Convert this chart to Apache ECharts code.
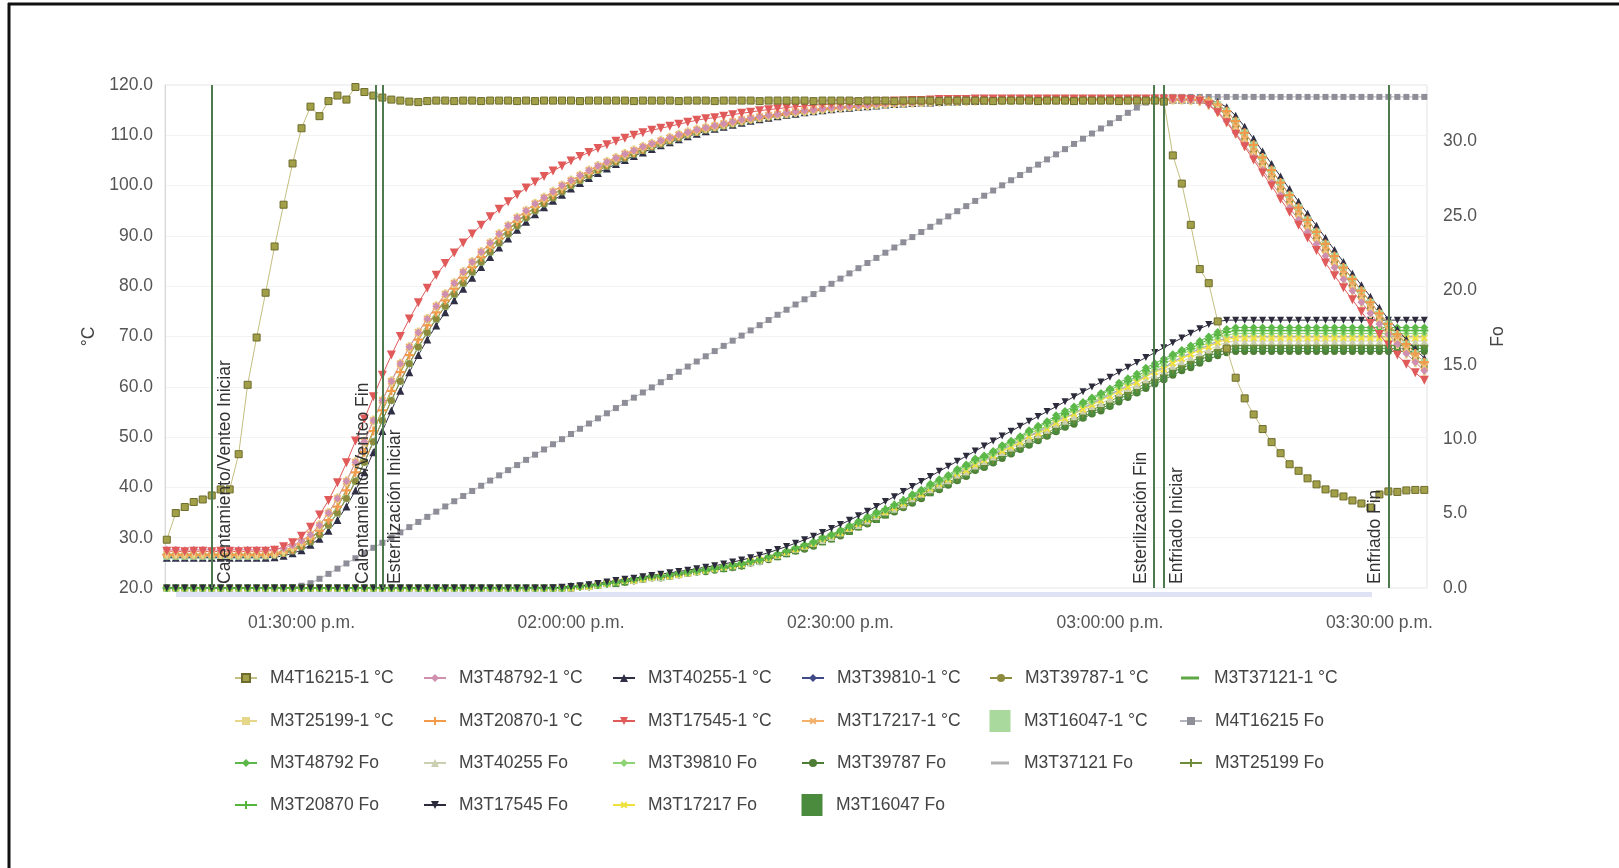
<!DOCTYPE html>
<html><head><meta charset="utf-8">
<script src="https://cdn.jsdelivr.net/npm/echarts@6/dist/echarts.min.js"></script>
<style>html,body{margin:0;padding:0;background:#fff}#chart{width:1619px;height:868px}</style>
</head><body><div id="chart"></div>
<script>
// Sample times: one reading per minute starting 01:15:00 p.m. (795 min after midnight)
const startMinute = 795;
const stepMinutes = 1;
const xLabelMinutes = [810, 840, 870, 900, 930];
const yLeftTicks = {min: 20, max: 120, interval: 10};
const yRightTicks = {min: 0, max: 33.8, interval: 5};

const eventNames = ['Calentamiento/Venteo Iniciar', 'Calentamiento/Venteo Fin', 'Esterilización Iniciar', 'Esterilización Fin', 'Enfriado Iniciar', 'Enfriado Fin'];
const eventMinutes = [800.0, 818.3, 819.0, 904.9, 906.0, 931.0];

// ---- Temperatures (°C) ----
const tM4T16215 = [
29.6,34.9,36.1,37.1,37.6,38.4,39.6,39.6,46.6,60.4,
69.8,78.7,87.9,96.2,104.4,111.4,115.7,113.8,116.8,117.9,
117.1,119.6,118.6,117.9,117.5,117.1,116.9,116.7,116.6,116.8,
116.9,116.9,116.8,116.9,116.9,116.8,116.9,116.9,116.9,116.8,
116.9,116.8,116.9,116.9,116.9,116.9,116.8,116.9,116.9,116.9,
116.9,116.9,116.8,116.9,116.9,116.9,116.9,116.8,116.9,116.9,
116.9,116.8,116.9,116.9,116.9,116.9,116.8,116.9,116.9,116.9,
116.9,116.9,116.8,116.9,116.9,116.9,116.9,116.8,116.9,116.9,
116.9,116.8,116.9,116.9,116.9,116.9,116.8,116.9,116.9,116.9,
116.9,116.9,116.8,116.9,116.9,116.9,116.9,116.8,116.9,116.9,
116.9,116.8,116.9,116.9,116.9,116.9,116.8,116.9,116.9,116.9,
116.9,116.7,106.0,100.4,92.2,83.4,80.6,73.0,67.6,61.8,
57.7,54.5,51.6,49.0,46.8,44.6,43.3,41.8,40.6,39.6,
38.8,38.2,37.4,36.8,36.0,38.6,39.2,39.1,39.4,39.5,
39.5];
const tM3T48792 = [
27.6,27.6,27.5,27.6,27.6,27.6,27.5,27.6,27.6,27.6,
27.6,27.6,27.7,27.9,28.5,29.4,30.6,32.5,34.9,37.8,
41.2,45.0,49.1,53.3,57.3,61.1,64.6,67.9,70.8,73.5,
76.0,78.4,80.6,82.8,84.8,86.8,88.6,90.4,92.0,93.6,
95.0,96.4,97.6,98.8,100.0,101.0,102.0,103.0,103.9,104.7,
105.5,106.3,107.0,107.7,108.3,108.9,109.5,110.1,110.6,111.1,
111.5,111.9,112.3,112.7,113.1,113.4,113.7,114.0,114.2,114.5,
114.7,114.9,115.1,115.3,115.5,115.6,115.8,115.9,116.0,116.2,
116.3,116.4,116.5,116.5,116.6,116.7,116.7,116.8,116.8,116.9,
116.9,117.0,117.0,117.0,117.1,117.1,117.1,117.1,117.1,117.1,
117.1,117.1,117.1,117.1,117.1,117.1,117.1,117.1,117.1,117.1,
117.1,117.1,117.1,117.1,117.0,116.8,116.1,114.8,112.8,110.5,
108.1,105.6,103.1,100.6,98.1,95.6,93.2,90.8,88.4,86.0,
83.7,81.4,79.1,76.8,74.6,72.5,70.4,68.5,66.6,64.9,
63.2];
const tM3T40255 = [
26.0,26.0,26.0,26.0,26.0,26.0,26.0,26.0,26.0,26.0,
26.0,26.0,26.1,26.4,26.9,27.5,28.6,29.8,31.4,33.5,
36.2,39.4,43.0,47.0,51.2,55.3,59.2,62.9,66.3,69.4,
72.2,74.8,77.2,79.5,81.7,83.8,85.8,87.7,89.5,91.2,
92.8,94.3,95.7,97.0,98.2,99.4,100.5,101.5,102.5,103.4,
104.3,105.1,105.9,106.6,107.3,108.0,108.6,109.2,109.8,110.3,
110.8,111.3,111.7,112.1,112.5,112.9,113.2,113.5,113.8,114.1,
114.3,114.6,114.8,115.0,115.2,115.4,115.5,115.7,115.8,115.9,
116.1,116.2,116.3,116.4,116.5,116.5,116.6,116.7,116.7,116.8,
116.8,116.9,116.9,117.0,117.0,117.0,117.1,117.1,117.1,117.1,
117.1,117.1,117.1,117.1,117.1,117.1,117.1,117.1,117.1,117.1,
117.1,117.1,117.1,117.1,117.1,117.1,117.0,116.6,115.6,113.9,
111.7,109.3,106.8,104.3,101.8,99.3,96.8,94.4,92.0,89.6,
87.2,84.8,82.5,80.2,77.9,75.7,73.5,71.4,69.4,67.5,
65.7];
const tM3T39810 = [
26.1,26.1,26.1,26.1,26.1,26.1,26.1,26.1,26.1,26.1,
26.1,26.2,26.4,26.8,27.4,28.2,29.2,30.6,32.5,34.9,
37.8,41.2,45.0,49.1,53.3,57.3,61.1,64.6,67.9,70.8,
73.5,76.0,78.4,80.6,82.8,84.8,86.8,88.6,90.4,92.0,
93.6,95.0,96.4,97.6,98.8,100.0,101.0,102.0,103.0,103.9,
104.7,105.5,106.3,107.0,107.7,108.3,108.9,109.5,110.1,110.6,
111.1,111.5,111.9,112.3,112.7,113.1,113.4,113.7,114.0,114.2,
114.5,114.7,114.9,115.1,115.3,115.5,115.6,115.8,115.9,116.0,
116.2,116.3,116.4,116.5,116.5,116.6,116.7,116.7,116.8,116.8,
116.9,116.9,117.0,117.0,117.0,117.1,117.1,117.1,117.1,117.1,
117.1,117.1,117.1,117.1,117.1,117.1,117.1,117.1,117.1,117.1,
117.1,117.1,117.1,117.1,117.1,117.1,116.8,116.1,114.8,112.8,
110.5,108.1,105.6,103.1,100.6,98.1,95.6,93.2,90.8,88.4,
86.0,83.7,81.4,79.1,76.8,74.6,72.5,70.4,68.5,66.6,
64.9];
const tM3T39787 = [
26.5,26.5,26.5,26.5,26.5,26.5,26.5,26.5,26.5,26.5,
26.5,26.5,26.6,26.9,27.4,28.2,29.2,30.6,32.5,34.9,
37.8,41.2,45.0,49.1,53.3,57.3,61.1,64.6,67.9,70.8,
73.5,76.0,78.4,80.6,82.8,84.8,86.8,88.6,90.4,92.0,
93.6,95.0,96.4,97.6,98.8,100.0,101.0,102.0,103.0,103.9,
104.7,105.5,106.3,107.0,107.7,108.3,108.9,109.5,110.1,110.6,
111.1,111.5,111.9,112.3,112.7,113.1,113.4,113.7,114.0,114.2,
114.5,114.7,114.9,115.1,115.3,115.5,115.6,115.8,115.9,116.0,
116.2,116.3,116.4,116.5,116.5,116.6,116.7,116.7,116.8,116.8,
116.9,116.9,117.0,117.0,117.0,117.1,117.1,117.1,117.1,117.1,
117.1,117.1,117.1,117.1,117.1,117.1,117.1,117.1,117.1,117.1,
117.1,117.1,117.1,117.1,117.1,117.0,116.6,115.6,113.9,111.7,
109.3,106.8,104.3,101.8,99.3,96.8,94.4,92.0,89.6,87.2,
84.8,82.5,80.2,77.9,75.7,73.5,71.4,69.4,67.5,65.7,
64.0];
const tM3T37121 = [
26.4,26.4,26.4,26.4,26.4,26.4,26.4,26.4,26.4,26.4,
26.4,26.5,26.7,27.1,27.7,28.6,29.8,31.4,33.5,36.2,
39.4,43.0,47.0,51.2,55.3,59.2,62.9,66.3,69.4,72.2,
74.8,77.2,79.5,81.7,83.8,85.8,87.7,89.5,91.2,92.8,
94.3,95.7,97.0,98.2,99.4,100.5,101.5,102.5,103.4,104.3,
105.1,105.9,106.6,107.3,108.0,108.6,109.2,109.8,110.3,110.8,
111.3,111.7,112.1,112.5,112.9,113.2,113.5,113.8,114.1,114.3,
114.6,114.8,115.0,115.2,115.4,115.5,115.7,115.8,115.9,116.1,
116.2,116.3,116.4,116.5,116.5,116.6,116.7,116.7,116.8,116.8,
116.9,116.9,117.0,117.0,117.0,117.1,117.1,117.1,117.1,117.1,
117.1,117.1,117.1,117.1,117.1,117.1,117.1,117.1,117.1,117.1,
117.1,117.1,117.1,117.1,117.1,117.0,116.6,115.6,113.9,111.7,
109.3,106.8,104.3,101.8,99.3,96.8,94.4,92.0,89.6,87.2,
84.8,82.5,80.2,77.9,75.7,73.5,71.4,69.4,67.5,65.7,
64.0];
const tM3T25199 = [
26.8,26.8,26.8,26.8,26.8,26.8,26.8,26.8,26.8,26.8,
26.8,26.8,26.9,27.4,28.2,29.2,30.6,32.5,34.9,37.8,
41.2,45.0,49.1,53.3,57.3,61.1,64.6,67.9,70.8,73.5,
76.0,78.4,80.6,82.8,84.8,86.8,88.6,90.4,92.0,93.6,
95.0,96.4,97.6,98.8,100.0,101.0,102.0,103.0,103.9,104.7,
105.5,106.3,107.0,107.7,108.3,108.9,109.5,110.1,110.6,111.1,
111.5,111.9,112.3,112.7,113.1,113.4,113.7,114.0,114.2,114.5,
114.7,114.9,115.1,115.3,115.5,115.6,115.8,115.9,116.0,116.2,
116.3,116.4,116.5,116.5,116.6,116.7,116.7,116.8,116.8,116.9,
116.9,117.0,117.0,117.0,117.1,117.1,117.1,117.1,117.1,117.1,
117.1,117.1,117.1,117.1,117.1,117.1,117.1,117.1,117.1,117.1,
117.1,117.1,117.1,117.1,117.0,116.8,116.1,114.8,112.8,110.5,
108.1,105.6,103.1,100.6,98.1,95.6,93.2,90.8,88.4,86.0,
83.7,81.4,79.1,76.8,74.6,72.5,70.4,68.5,66.6,64.9,
63.2];
const tM3T20870 = [
26.6,26.6,26.6,26.6,26.6,26.6,26.6,26.6,26.6,26.6,
26.6,26.6,26.8,27.1,27.7,28.6,29.8,31.4,33.5,36.2,
39.4,43.0,47.0,51.2,55.3,59.2,62.9,66.3,69.4,72.2,
74.8,77.2,79.5,81.7,83.8,85.8,87.7,89.5,91.2,92.8,
94.3,95.7,97.0,98.2,99.4,100.5,101.5,102.5,103.4,104.3,
105.1,105.9,106.6,107.3,108.0,108.6,109.2,109.8,110.3,110.8,
111.3,111.7,112.1,112.5,112.9,113.2,113.5,113.8,114.1,114.3,
114.6,114.8,115.0,115.2,115.4,115.5,115.7,115.8,115.9,116.1,
116.2,116.3,116.4,116.5,116.5,116.6,116.7,116.7,116.8,116.8,
116.9,116.9,117.0,117.0,117.0,117.1,117.1,117.1,117.1,117.1,
117.1,117.1,117.1,117.1,117.1,117.1,117.1,117.1,117.1,117.1,
117.1,117.1,117.1,117.1,117.1,117.1,116.8,116.1,114.8,112.8,
110.5,108.1,105.6,103.1,100.6,98.1,95.6,93.2,90.8,88.4,
86.0,83.7,81.4,79.1,76.8,74.6,72.5,70.4,68.5,66.6,
64.9];
const tM3T17545 = [
27.3,27.3,27.2,27.3,27.3,27.2,27.3,27.3,27.2,27.3,
27.3,27.3,27.5,28.2,29.0,30.3,32.1,34.5,37.4,40.9,
44.9,49.2,53.6,58.0,62.3,66.3,70.0,73.5,76.7,79.6,
82.2,84.5,86.6,88.6,90.4,92.1,93.8,95.3,96.8,98.2,
99.5,100.7,101.8,102.9,103.9,104.9,105.8,106.6,107.4,108.1,
108.8,109.4,110.0,110.5,111.0,111.4,111.8,112.2,112.6,113.0,
113.3,113.5,113.8,114.1,114.4,114.6,114.9,115.1,115.3,115.5,
115.7,115.8,116.0,116.1,116.2,116.3,116.4,116.5,116.6,116.7,
116.7,116.8,116.8,116.9,116.9,117.0,117.1,117.1,117.1,117.1,
117.2,117.2,117.2,117.2,117.2,117.2,117.2,117.2,117.2,117.2,
117.2,117.2,117.2,117.2,117.2,117.2,117.2,117.2,117.2,117.2,
117.2,117.2,117.2,117.2,117.1,116.8,116.0,114.5,112.5,110.2,
107.7,105.1,102.5,99.9,97.3,94.7,92.1,89.6,87.1,84.6,
82.1,79.7,77.3,74.9,72.6,70.4,68.3,66.3,64.5,62.8,
61.3];
const tM3T17217 = [
26.7,26.7,26.7,26.7,26.7,26.7,26.7,26.7,26.7,26.7,
26.7,26.7,26.9,27.4,28.2,29.2,30.6,32.5,34.9,37.8,
41.2,45.0,49.1,53.3,57.3,61.1,64.6,67.9,70.8,73.5,
76.0,78.4,80.6,82.8,84.8,86.8,88.6,90.4,92.0,93.6,
95.0,96.4,97.6,98.8,100.0,101.0,102.0,103.0,103.9,104.7,
105.5,106.3,107.0,107.7,108.3,108.9,109.5,110.1,110.6,111.1,
111.5,111.9,112.3,112.7,113.1,113.4,113.7,114.0,114.2,114.5,
114.7,114.9,115.1,115.3,115.5,115.6,115.8,115.9,116.0,116.2,
116.3,116.4,116.5,116.5,116.6,116.7,116.7,116.8,116.8,116.9,
116.9,117.0,117.0,117.0,117.1,117.1,117.1,117.1,117.1,117.1,
117.1,117.1,117.1,117.1,117.1,117.1,117.1,117.1,117.1,117.1,
117.1,117.1,117.1,117.1,117.1,117.0,116.6,115.6,113.9,111.7,
109.3,106.8,104.3,101.8,99.3,96.8,94.4,92.0,89.6,87.2,
84.8,82.5,80.2,77.9,75.7,73.5,71.4,69.4,67.5,65.7,
64.0];
const tM3T16047 = [
26.3,26.3,26.3,26.3,26.3,26.3,26.3,26.3,26.3,26.3,
26.3,26.4,26.6,26.9,27.4,28.2,29.2,30.6,32.5,34.9,
37.8,41.2,45.0,49.1,53.3,57.3,61.1,64.6,67.9,70.8,
73.5,76.0,78.4,80.6,82.8,84.8,86.8,88.6,90.4,92.0,
93.6,95.0,96.4,97.6,98.8,100.0,101.0,102.0,103.0,103.9,
104.7,105.5,106.3,107.0,107.7,108.3,108.9,109.5,110.1,110.6,
111.1,111.5,111.9,112.3,112.7,113.1,113.4,113.7,114.0,114.2,
114.5,114.7,114.9,115.1,115.3,115.5,115.6,115.8,115.9,116.0,
116.2,116.3,116.4,116.5,116.5,116.6,116.7,116.7,116.8,116.8,
116.9,116.9,117.0,117.0,117.0,117.1,117.1,117.1,117.1,117.1,
117.1,117.1,117.1,117.1,117.1,117.1,117.1,117.1,117.1,117.1,
117.1,117.1,117.1,117.1,117.1,117.1,116.8,116.1,114.8,112.8,
110.5,108.1,105.6,103.1,100.6,98.1,95.6,93.2,90.8,88.4,
86.0,83.7,81.4,79.1,76.8,74.6,72.5,70.4,68.5,66.6,
64.9];

// ---- Fo values ----
const foM4T16215 = [
0,0,0,0,0,0,0,0,0,0,
0,0,0,0.02,0.06,0.15,0.32,0.62,0.95,1.30,
1.65,2.00,2.35,2.70,3.04,3.39,3.74,4.09,4.44,4.78,
5.13,5.48,5.83,6.18,6.52,6.87,7.22,7.57,7.92,8.26,
8.61,8.96,9.31,9.66,10.00,10.35,10.70,11.05,11.40,11.74,
12.09,12.44,12.79,13.14,13.48,13.83,14.18,14.53,14.88,15.22,
15.57,15.92,16.27,16.62,16.96,17.31,17.66,18.01,18.36,18.70,
19.05,19.40,19.75,20.10,20.44,20.79,21.14,21.49,21.84,22.18,
22.53,22.88,23.23,23.58,23.92,24.27,24.62,24.97,25.32,25.66,
26.01,26.36,26.71,27.06,27.40,27.75,28.10,28.45,28.80,29.14,
29.49,29.84,30.19,30.54,30.88,31.23,31.58,31.93,32.28,32.62,
32.97,33.0,33.0,33.0,33.0,33.0,33.0,33.0,33.0,33.0,
33.0,33.0,33.0,33.0,33.0,33.0,33.0,33.0,33.0,33.0,
33.0,33.0,33.0,33.0,33.0,33.0,33.0,33.0,33.0,33.0,
33.0];
const foM3T48792 = [
0,0,0,0,0,0,0,0,0,0, 0,0,0,0,0,0,0,0,0,0, 0,0,0,0,0,0,0,0,0,0, 0,0,0,0,0,0,0,0,0,0,
0,0,0,0,0,0.1,0.1,0.2,0.2,0.3,
0.4,0.5,0.6,0.7,0.8,0.8,0.9,1.0,1.1,1.2,
1.3,1.4,1.5,1.6,1.7,1.8,1.9,2.1,2.3,2.5,
2.7,2.9,3.1,3.4,3.6,3.9,4.2,4.5,4.8,5.1,
5.3,5.6,5.9,6.3,6.6,7.0,7.3,7.6,8.0,8.3,
8.7,8.9,9.2,9.6,9.9,10.2,10.6,10.9,11.2,11.6,
11.9,12.2,12.5,12.8,13.1,13.4,13.8,14.1,14.4,14.8,
15.1,15.4,15.7,16.0,16.3,16.6,16.9,17.2,17.4,17.5,
17.5,17.5,17.5,17.5,17.5,17.5,17.5,17.5,17.5,17.5,
17.5,17.5,17.5,17.5,17.5,17.5,17.5,17.5,17.5,17.5,
17.5];
const foM3T40255 = [
0,0,0,0,0,0,0,0,0,0, 0,0,0,0,0,0,0,0,0,0, 0,0,0,0,0,0,0,0,0,0, 0,0,0,0,0,0,0,0,0,0,
0,0,0,0,0,0,0.1,0.1,0.2,0.3,
0.4,0.5,0.5,0.6,0.7,0.7,0.8,0.9,1.0,1.1,
1.2,1.3,1.4,1.5,1.6,1.7,1.8,2.0,2.2,2.4,
2.6,2.8,3.0,3.2,3.4,3.7,4.0,4.2,4.5,4.8,
5.1,5.3,5.6,6.0,6.3,6.6,6.9,7.2,7.6,7.8,
8.2,8.5,8.8,9.1,9.4,9.7,10.0,10.3,10.6,11.0,
11.2,11.5,11.9,12.2,12.4,12.7,13.1,13.4,13.6,14.0,
14.3,14.6,14.9,15.2,15.5,15.8,16.0,16.3,16.5,16.6,
16.6,16.6,16.6,16.6,16.6,16.6,16.6,16.6,16.6,16.6,
16.6,16.6,16.6,16.6,16.6,16.6,16.6,16.6,16.6,16.6,
16.6];
const foM3T39810 = [
0,0,0,0,0,0,0,0,0,0, 0,0,0,0,0,0,0,0,0,0, 0,0,0,0,0,0,0,0,0,0, 0,0,0,0,0,0,0,0,0,0,
0,0,0,0,0,0.1,0.1,0.2,0.2,0.3,
0.4,0.5,0.6,0.7,0.8,0.8,0.9,1.0,1.0,1.1,
1.2,1.3,1.4,1.5,1.6,1.8,1.9,2.1,2.3,2.5,
2.7,2.9,3.0,3.3,3.5,3.8,4.1,4.4,4.7,4.9,
5.2,5.5,5.8,6.2,6.5,6.8,7.1,7.4,7.8,8.1,
8.5,8.7,9.0,9.4,9.7,10.0,10.4,10.6,10.9,11.3,
11.6,11.9,12.3,12.5,12.8,13.1,13.5,13.8,14.1,14.4,
14.7,15.0,15.4,15.7,16.0,16.2,16.5,16.8,17.0,17.1,
17.1,17.1,17.1,17.1,17.1,17.1,17.1,17.1,17.1,17.1,
17.1,17.1,17.1,17.1,17.1,17.1,17.1,17.1,17.1,17.1,
17.1];
const foM3T39787 = [
0,0,0,0,0,0,0,0,0,0, 0,0,0,0,0,0,0,0,0,0, 0,0,0,0,0,0,0,0,0,0, 0,0,0,0,0,0,0,0,0,0,
0,0,0,0,0,0,0.1,0.1,0.2,0.3,
0.3,0.4,0.5,0.6,0.7,0.7,0.8,0.9,1.0,1.1,
1.1,1.2,1.3,1.4,1.5,1.7,1.8,1.9,2.1,2.3,
2.5,2.6,2.8,3.1,3.3,3.5,3.8,4.1,4.3,4.6,
4.9,5.1,5.4,5.7,6.0,6.4,6.6,6.9,7.2,7.5,
7.9,8.1,8.4,8.7,9.0,9.3,9.6,9.9,10.2,10.5,
10.8,11.0,11.4,11.7,11.9,12.2,12.5,12.8,13.1,13.4,
13.7,14.0,14.3,14.6,14.8,15.1,15.4,15.6,15.8,15.9,
15.9,15.9,15.9,15.9,15.9,15.9,15.9,15.9,15.9,15.9,
15.9,15.9,15.9,15.9,15.9,15.9,15.9,15.9,15.9,15.9,
15.9];
const foM3T37121 = [
0,0,0,0,0,0,0,0,0,0, 0,0,0,0,0,0,0,0,0,0, 0,0,0,0,0,0,0,0,0,0, 0,0,0,0,0,0,0,0,0,0,
0,0,0,0,0,0.1,0.1,0.2,0.2,0.3,
0.4,0.5,0.6,0.7,0.8,0.8,0.8,0.9,1.0,1.1,
1.2,1.3,1.4,1.5,1.6,1.8,1.9,2.1,2.3,2.4,
2.6,2.8,3.0,3.3,3.5,3.8,4.0,4.3,4.6,4.9,
5.2,5.4,5.7,6.1,6.4,6.8,7.0,7.3,7.7,8.0,
8.4,8.6,8.9,9.3,9.6,9.9,10.2,10.5,10.8,11.2,
11.5,11.7,12.1,12.4,12.7,13.0,13.3,13.6,13.9,14.3,
14.6,14.8,15.2,15.5,15.8,16.1,16.3,16.6,16.8,16.9,
16.9,16.9,16.9,16.9,16.9,16.9,16.9,16.9,16.9,16.9,
16.9,16.9,16.9,16.9,16.9,16.9,16.9,16.9,16.9,16.9,
16.9];
const foM3T25199 = [
0,0,0,0,0,0,0,0,0,0, 0,0,0,0,0,0,0,0,0,0, 0,0,0,0,0,0,0,0,0,0, 0,0,0,0,0,0,0,0,0,0,
0,0,0,0,0,0,0.1,0.1,0.2,0.3,
0.4,0.4,0.5,0.6,0.7,0.7,0.8,0.9,1.0,1.1,
1.2,1.3,1.4,1.4,1.5,1.7,1.8,2.0,2.2,2.4,
2.5,2.7,2.9,3.2,3.4,3.6,3.9,4.2,4.4,4.7,
5.0,5.3,5.5,5.9,6.2,6.5,6.8,7.1,7.4,7.7,
8.1,8.3,8.6,9.0,9.2,9.5,9.9,10.1,10.4,10.8,
11.1,11.3,11.7,12.0,12.2,12.5,12.9,13.1,13.4,13.8,
14.0,14.3,14.7,14.9,15.2,15.5,15.8,16.0,16.2,16.3,
16.3,16.3,16.3,16.3,16.3,16.3,16.3,16.3,16.3,16.3,
16.3,16.3,16.3,16.3,16.3,16.3,16.3,16.3,16.3,16.3,
16.3];
const foM3T20870 = [
0,0,0,0,0,0,0,0,0,0, 0,0,0,0,0,0,0,0,0,0, 0,0,0,0,0,0,0,0,0,0, 0,0,0,0,0,0,0,0,0,0,
0,0,0,0,0,0.1,0.1,0.2,0.2,0.3,
0.4,0.5,0.6,0.7,0.8,0.8,0.9,1.0,1.1,1.2,
1.2,1.3,1.4,1.5,1.6,1.8,1.9,2.1,2.3,2.5,
2.7,2.9,3.1,3.4,3.6,3.8,4.1,4.4,4.7,5.0,
5.3,5.6,5.9,6.2,6.5,6.9,7.2,7.5,7.9,8.2,
8.6,8.8,9.1,9.5,9.8,10.1,10.5,10.8,11.1,11.4,
11.7,12.0,12.4,12.7,13.0,13.3,13.6,13.9,14.2,14.6,
14.9,15.2,15.6,15.9,16.1,16.4,16.7,17.0,17.2,17.3,
17.3,17.3,17.3,17.3,17.3,17.3,17.3,17.3,17.3,17.3,
17.3,17.3,17.3,17.3,17.3,17.3,17.3,17.3,17.3,17.3,
17.3];
const foM3T17545 = [
0,0,0,0,0,0,0,0,0,0, 0,0,0,0,0,0,0,0,0,0, 0,0,0,0,0,0,0,0,0,0, 0,0,0,0,0,0,0,0,0,0,
0,0,0,0.02,0.05,0.10,0.15,0.22,0.30,0.40,
0.50,0.58,0.66,0.75,0.84,0.93,1.02,1.11,1.20,1.30,
1.40,1.50,1.61,1.74,1.88,2.03,2.20,2.38,2.58,2.79,
3.01,3.24,3.48,3.73,3.99,4.26,4.55,4.85,5.16,5.48,
5.81,6.14,6.48,6.82,7.16,7.50,7.84,8.18,8.52,8.86,
9.20,9.54,9.88,10.21,10.54,10.87,11.20,11.53,11.86,12.19,
12.52,12.85,13.18,13.51,13.84,14.17,14.50,14.83,15.16,15.49,
15.82,16.15,16.48,16.80,17.12,17.42,17.70,17.90,18.00,18.00,
18.0,18.0,18.0,18.0,18.0,18.0,18.0,18.0,18.0,18.0,
18.0,18.0,18.0,18.0,18.0,18.0,18.0,18.0,18.0,18.0,
18.0];
const foM3T17217 = [
0,0,0,0,0,0,0,0,0,0, 0,0,0,0,0,0,0,0,0,0, 0,0,0,0,0,0,0,0,0,0, 0,0,0,0,0,0,0,0,0,0,
0,0,0,0,0,0,0.1,0.1,0.2,0.3,
0.4,0.5,0.5,0.6,0.7,0.8,0.8,0.9,1.0,1.1,
1.2,1.3,1.4,1.5,1.6,1.8,1.9,2.0,2.2,2.4,
2.6,2.8,3.0,3.3,3.5,3.7,4.0,4.3,4.6,4.9,
5.1,5.4,5.7,6.1,6.3,6.7,7.0,7.3,7.7,7.9,
8.3,8.6,8.9,9.2,9.5,9.8,10.2,10.4,10.7,11.1,
11.4,11.7,12.0,12.3,12.6,12.9,13.2,13.5,13.8,14.2,
14.5,14.7,15.1,15.4,15.7,16.0,16.2,16.5,16.7,16.8,
16.8,16.8,16.8,16.8,16.8,16.8,16.8,16.8,16.8,16.8,
16.8,16.8,16.8,16.8,16.8,16.8,16.8,16.8,16.8,16.8,
16.8];
const foM3T16047 = [
0,0,0,0,0,0,0,0,0,0, 0,0,0,0,0,0,0,0,0,0, 0,0,0,0,0,0,0,0,0,0, 0,0,0,0,0,0,0,0,0,0,
0,0,0,0,0,0,0.1,0.1,0.2,0.3,
0.3,0.4,0.5,0.6,0.7,0.7,0.8,0.9,1.0,1.1,
1.2,1.3,1.3,1.4,1.5,1.7,1.8,2.0,2.1,2.3,
2.5,2.7,2.9,3.1,3.3,3.6,3.8,4.1,4.4,4.6,
4.9,5.2,5.5,5.8,6.1,6.4,6.7,7.0,7.3,7.6,
8.0,8.2,8.5,8.9,9.1,9.4,9.7,10.0,10.3,10.6,
10.9,11.2,11.5,11.8,12.1,12.3,12.7,13.0,13.2,13.6,
13.9,14.1,14.5,14.8,15.0,15.3,15.6,15.8,16.0,16.1,
16.1,16.1,16.1,16.1,16.1,16.1,16.1,16.1,16.1,16.1,
16.1,16.1,16.1,16.1,16.1,16.1,16.1,16.1,16.1,16.1,
16.1];

// ---- legend layout (row-major, 6 columns) ----
const legendOrder = [
  'M4T16215-1 °C','M3T48792-1 °C','M3T40255-1 °C','M3T39810-1 °C','M3T39787-1 °C','M3T37121-1 °C',
  'M3T25199-1 °C','M3T20870-1 °C','M3T17545-1 °C','M3T17217-1 °C','M3T16047-1 °C','M4T16215 Fo',
  'M3T48792 Fo','M3T40255 Fo','M3T39810 Fo','M3T39787 Fo','M3T37121 Fo','M3T25199 Fo',
  'M3T20870 Fo','M3T17545 Fo','M3T17217 Fo','M3T16047 Fo'
];

const PLUS = 'path://M3,0H5V3H8V5H5V8H3V5H0V3H3Z';
const BAR = 'path://M0,0H2V10H0Z';

// draw order (first drawn = bottom)
const seriesDefs = [
  ['M4T16215 Fo', foM4T16215, 1, {color:'#8e8e98', line:'#b4b4bc', symbol:'rect', size:6}],
  ['M3T39787 Fo', foM3T39787, 1, {color:'#4e7d35', symbol:'circle', size:7}],
  ['M3T16047 Fo', foM3T16047, 1, {color:'#4b8b3d', symbol:'rect', size:7, legendRect:true}],
  ['M3T25199 Fo', foM3T25199, 1, {color:'#6f8c3a', symbol:PLUS, size:8}],
  ['M3T40255 Fo', foM3T40255, 1, {color:'#c9cfb0', symbol:'triangle', size:7}],
  ['M3T17217 Fo', foM3T17217, 1, {color:'#efe03c', symbol:PLUS, size:8, rotate:45}],
  ['M3T37121 Fo', foM3T37121, 1, {color:'#b0b0b0', symbol:'none', size:0, width:1.5, legendLine:true}],
  ['M3T39810 Fo', foM3T39810, 1, {color:'#8fd474', symbol:'diamond', size:7}],
  ['M3T20870 Fo', foM3T20870, 1, {color:'#55b53c', symbol:PLUS, size:8}],
  ['M3T48792 Fo', foM3T48792, 1, {color:'#5db84a', symbol:'diamond', size:8}],
  ['M3T17545 Fo', foM3T17545, 1, {color:'#2b2b3c', symbol:'triangle', size:7, rotate:180}],
  ['M3T40255-1 °C', tM3T40255, 0, {color:'#2f2f45', symbol:'triangle', size:8}],
  ['M3T39810-1 °C', tM3T39810, 0, {color:'#3f4a86', symbol:'diamond', size:8}],
  ['M3T16047-1 °C', tM3T16047, 0, {color:'#a9d99c', symbol:'rect', size:7, legendRect:true}],
  ['M3T39787-1 °C', tM3T39787, 0, {color:'#8d8b3e', symbol:'circle', size:7}],
  ['M3T37121-1 °C', tM3T37121, 0, {color:'#5ea845', symbol:'none', size:0, width:1.5, legendLine:true}],
  ['M3T20870-1 °C', tM3T20870, 0, {color:'#f29a4a', symbol:PLUS, size:9}],
  ['M3T17217-1 °C', tM3T17217, 0, {color:'#f3b06a', symbol:PLUS, size:9, rotate:45}],
  ['M3T25199-1 °C', tM3T25199, 0, {color:'#e6d68a', symbol:BAR, size:[3,10]}],
  ['M3T48792-1 °C', tM3T48792, 0, {color:'#cf8fae', symbol:'diamond', size:8}],
  ['M3T17545-1 °C', tM3T17545, 0, {color:'#e05a5a', symbol:'triangle', size:9, rotate:180}],
  ['M4T16215-1 °C', tM4T16215, 0, {color:'#a19f48', border:'#6e6c2c', line:'#c4be80', symbol:'rect', size:7}]
];

function fmtTime(v) {
  const h = Math.floor(v / 60), m = Math.round(v % 60);
  const h12 = h > 12 ? h - 12 : h;
  const p = n => (n < 10 ? '0' : '') + n;
  return p(h12) + ':' + p(m) + ':00 ' + (h >= 12 ? 'p.m.' : 'a.m.');
}

const FONT = 'Liberation Sans, Arial, sans-serif';
const FS = 17.5;

const series = seriesDefs.map(([name, vals, axis, st]) => ({
  name, type: 'line', yAxisIndex: axis,
  data: vals.map((v, i) => [startMinute + i * stepMinutes, v]),
  symbol: st.symbol, symbolSize: st.size, symbolRotate: st.rotate || 0,
  showAllSymbol: true, animation: false, z: axis === 0 ? 4 : 3,
  itemStyle: {color: st.color, borderColor: st.border || st.color, borderWidth: st.border ? 1 : 0},
  lineStyle: {color: st.line || st.color, width: st.width || 1},
  emphasis: {disabled: true}
}));

// phase markers on the retort series (last)
series[series.length - 1].markLine = {
  silent: true, symbol: ['none', 'none'], animation: false,
  lineStyle: {color: '#4f7a4f', width: 2, type: 'solid'},
  data: eventNames.map((n, i) => ({
    name: n, xAxis: eventMinutes[i],
    label: {
      show: true, formatter: '{b}',
      position: n.indexOf('Iniciar') >= 0 ? 'insideStartBottom' : 'insideStartTop',
      color: '#333', fontSize: FS, fontFamily: FONT, distance: 4
    }
  }))
};

const colLeft = [234, 423, 612, 801, 989, 1179];
const rowCenter = [678, 721, 763, 805];
const rectNames = seriesDefs.filter(d => d[3].legendRect).map(d => d[0]);
const lineNames = seriesDefs.filter(d => d[3].legendLine).map(d => d[0]);

const legends = legendOrder.map((name, i) => {
  const c = i % 6, r = Math.floor(i / 6);
  const base = {
    padding: 0, selectedMode: false,
    textStyle: {fontSize: FS, color: '#444', fontFamily: FONT, lineHeight: 20, padding: [0, 0, 0, 8]}
  };
  if (rectNames.indexOf(name) >= 0) {
    return Object.assign(base, {data: [{name, icon: 'rect'}], left: colLeft[c] + 0.5, top: rowCenter[r] - 11,
      itemWidth: 21, itemHeight: 22, textStyle: Object.assign({}, base.textStyle, {padding: [0, 0, 0, 8.5]})});
  }
  if (lineNames.indexOf(name) >= 0) {
    return Object.assign(base, {data: [{name, icon: 'rect'}], left: colLeft[c] + 2, top: rowCenter[r] - 10,
      itemWidth: 18, itemHeight: 3, textStyle: Object.assign({}, base.textStyle, {padding: [0, 0, 0, 10]})});
  }
  return Object.assign(base, {data: [name], left: colLeft[c], top: rowCenter[r] - 10, itemWidth: 22, itemHeight: 10});
});

const chart = echarts.init(document.getElementById('chart'), null, {renderer: 'canvas'});
chart.setOption({
  backgroundColor: '#fff',
  animation: false,
  textStyle: {fontFamily: FONT},
  grid: {left: 165, right: 192, top: 85, bottom: 280, show: true, borderColor: '#e2e2e2', borderWidth: 1, containLabel: false},
  xAxis: {
    type: 'value', min: 794.8, max: 935.3,
    axisLine: {show: false}, axisTick: {show: false}, splitLine: {show: false},
    axisLabel: {customValues: xLabelMinutes, formatter: fmtTime, margin: 26, fontSize: FS, color: '#555', fontFamily: FONT}
  },
  yAxis: [
    {type: 'value', min: yLeftTicks.min, max: yLeftTicks.max, interval: yLeftTicks.interval,
     name: '°C', nameLocation: 'middle', nameGap: 63, nameTextStyle: {fontSize: FS, color: '#444', fontFamily: FONT},
     axisLine: {show: true, lineStyle: {color: '#d8d8d8'}}, axisTick: {show: false},
     splitLine: {show: true, lineStyle: {color: '#f3f3f3'}},
     axisLabel: {formatter: v => v.toFixed(1), margin: 12, fontSize: FS, color: '#555', fontFamily: FONT}},
    {type: 'value', min: yRightTicks.min, max: yRightTicks.max, interval: yRightTicks.interval, position: 'right',
     name: 'Fo', nameLocation: 'middle', nameGap: 62, nameTextStyle: {fontSize: FS, color: '#444', fontFamily: FONT},
     axisLine: {show: false}, axisTick: {show: false}, splitLine: {show: false},
     axisLabel: {formatter: v => v.toFixed(1), margin: 16, fontSize: FS, color: '#555', fontFamily: FONT, showMaxLabel: false}}
  ],
  legend: legends,
  graphic: [
    {type: 'line', shape: {x1: 8, y1: 4, x2: 1619, y2: 4}, style: {stroke: '#111', lineWidth: 3}, silent: true},
    {type: 'line', shape: {x1: 9, y1: 3, x2: 9, y2: 868}, style: {stroke: '#111', lineWidth: 3}, silent: true},
    {type: 'rect', shape: {x: 176, y: 592, width: 1196, height: 5}, style: {fill: '#dfe2f3'}, silent: true}
  ],
  series
});
</script></body></html>
